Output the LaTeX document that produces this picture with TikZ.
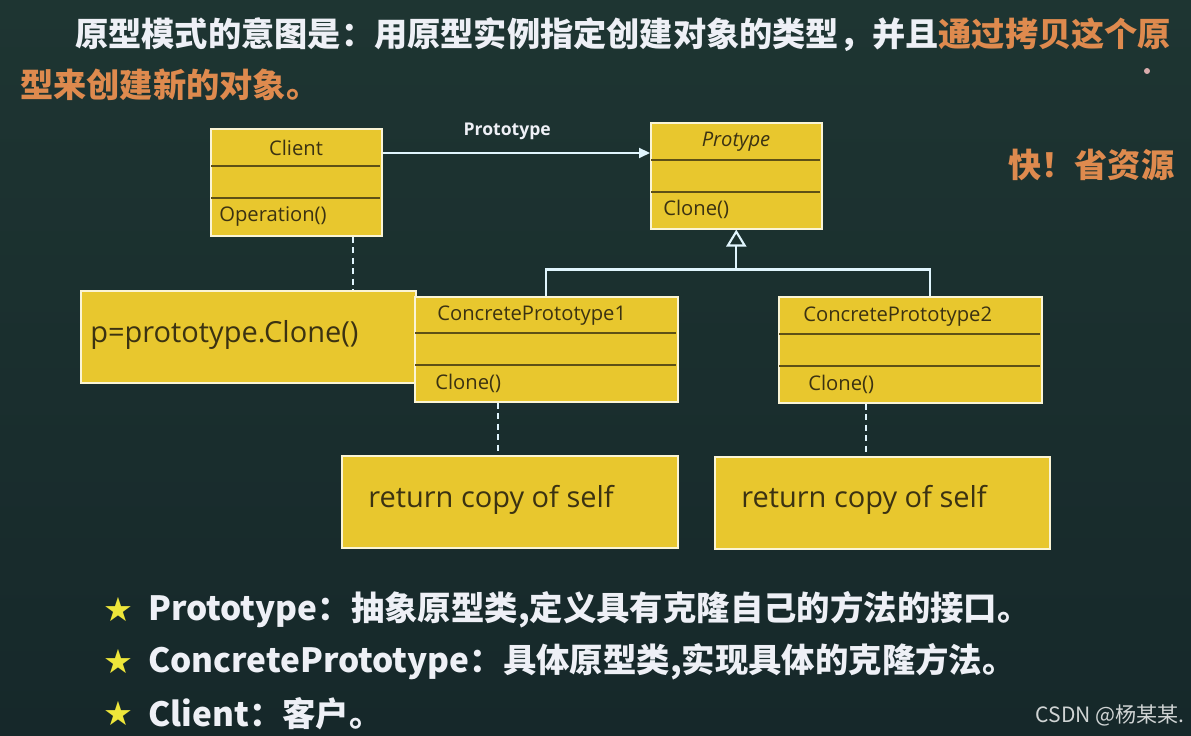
\documentclass[tikz,border=0pt]{standalone}
\usepackage{fontspec}
\setmainfont{Noto Sans CJK SC}
\newfontfamily\umlfont{Open Sans}
\newfontfamily\starfont{DejaVu Sans}
\usetikzlibrary{arrows.meta}
\definecolor{board}{HTML}{16282A}
\definecolor{boardtop}{HTML}{1E3532}
\definecolor{umlyellow}{HTML}{E8C72E}
\definecolor{umltext}{HTML}{3B3212}
\definecolor{umlrule}{HTML}{5E5016}
\definecolor{hintorange}{HTML}{DE8A4E}
\definecolor{chalk}{HTML}{EEF0F6}
\definecolor{stargreen}{HTML}{EEE63A}

\begin{document}
\begin{tikzpicture}[x=0.02cm, y=-0.02cm, every node/.style={inner sep=0pt},
	umlbox/.style={draw=white!80!umlyellow, fill=umlyellow, line width=0.9pt, anchor=north west},
	umlname/.style={font=\umlfont\fontsize{11.5}{13}\selectfont, text=umltext},
	umlop/.style={font=\umlfont\fontsize{11.5}{13}\selectfont, text=umltext, anchor=west},
	notetext/.style={font=\umlfont\fontsize{16.5}{19}\selectfont, text=umltext, anchor=west},
	divider/.style={draw=umlrule, line width=0.9pt},
	link/.style={draw=white!88!cyan, line width=1.2pt},
	dashlink/.style={link, dash pattern=on 3.5pt off 2.5pt},
	headline/.style={font=\bfseries\fontsize{18.9}{22}\selectfont, text=chalk, anchor=west},
	bullet/.style={font=\bfseries\fontsize{19}{22}\selectfont, text=chalk, anchor=west},
	starmark/.style={text=stargreen, font=\starfont\fontsize{19}{22}\selectfont},
	>={Triangle[length=2.2mm, width=2mm]}]
	\path[use as bounding box] (0,0) rectangle (1191,736);
	\shade[top color=boardtop, bottom color=board] (0,0) rectangle (1191,736);
	\node[headline] (intent) at (75,35) {原型模式的意图是：用原型实例指定创建对象的类型，并且\textcolor{hintorange}{通过拷贝这个原}};
	\node[headline, text=hintorange] (intentend) at (20,85) {型来创建新的对象。};
	\node[headline, text=hintorange] (gain) at (1008,165) {快！省资源};
	\fill[pink!70!gray] (1147,71) circle (1.7pt);
	\node[umlbox, minimum width=6.70cm, minimum height=1.84cm] (clonenote) at (80,290) {};
	\node[notetext] (clonecall) at (90,335) {p=prototype.Clone()};
	\node[umlbox, minimum width=3.42cm, minimum height=2.14cm] (client) at (210,128) {};
	\draw[divider] (211,166) -- (380,166) (211,198) -- (380,198);
	\node[umlname] (clientname) at (296,148) {Client};
	\node[umlop] (clientop) at (219,217) {Operation()};
	\node[umlbox, minimum width=3.42cm, minimum height=2.12cm] (protype) at (650,122) {};
	\draw[divider] (651,160) -- (820,160) (651,192) -- (820,192);
	\node[umlname, font=\umlfont\itshape\fontsize{11.5}{13}\selectfont] (protypename) at (736,142) {Protype};
	\node[umlop] (protypeop) at (663,209) {Clone()};
	\node[umlbox, minimum width=5.26cm, minimum height=2.10cm] (cp1) at (414,296) {};
	\draw[divider] (415,333) -- (676,333) (415,365) -- (676,365);
	\node[umlname, anchor=west] (cp1name) at (437,316) {ConcretePrototype1};
	\node[umlop] (cp1op) at (435,383) {Clone()};
	\node[umlbox, minimum width=5.26cm, minimum height=2.12cm] (cp2) at (778,296) {};
	\draw[divider] (779,334) -- (1040,334) (779,366) -- (1040,366);
	\node[umlname, anchor=west] (cp2name) at (803,317) {ConcretePrototype2};
	\node[umlop] (cp2op) at (808,384) {Clone()};
	\node[umlbox, minimum width=6.72cm, minimum height=1.84cm] (copyone) at (341,455) {};
	\node[notetext] (copyonetext) at (368,500) {return copy of self};
	\node[umlbox, minimum width=6.70cm, minimum height=1.84cm] (copytwo) at (714,456) {};
	\node[notetext] (copytwotext) at (741,500) {return copy of self};
	\coordinate (assocstart) at ([yshift=-0.5cm]client.north east);
	\draw[link, ->] (assocstart) -- (assocstart -| protype.west)
		node[midway, above=7pt, xshift=-0.18cm, font=\umlfont\bfseries\fontsize{10}{12}\selectfont, text=chalk] (assocname) {Prototype};
	\coordinate (fork) at ([yshift=-0.8cm]protype.south);
	\draw[link, -{Triangle[open, length=3.4mm, width=4mm]}] (cp1.north) |- (fork) -- (protype.south);
	\draw[link] ([xshift=0.4cm]cp2.north) |- (fork);
	\coordinate (clientdash) at ([xshift=1.13cm]client.south);
	\draw[dashlink] (clientdash) -- (clientdash |- clonenote.north);
	\coordinate (cp1dash) at ([xshift=-0.97cm]cp1.south);
	\draw[dashlink] (cp1dash) -- (cp1dash |- copyone.north);
	\coordinate (cp2dash) at ([xshift=-0.89cm]cp2.south);
	\draw[dashlink] (cp2dash) -- (cp2dash |- copytwo.north);
	\node[starmark] (star1) at (118,610) {★};
	\node[starmark] (star2) at (118,662) {★};
	\node[starmark] (star3) at (118,714) {★};
	\node[bullet] (role1) at (148,610) {Prototype：抽象原型类,定义具有克隆自己的方法的接口。};
	\node[bullet] (role2) at (148,662) {ConcretePrototype：具体原型类,实现具体的克隆方法。};
	\node[bullet] (role3) at (148,714) {Client：客户。};
	\node[font=\fontsize{12}{14}\selectfont, text=white!80!board, anchor=east] (mark) at (1185,715) {CSDN @杨某某.};
\end{tikzpicture}
\end{document}
